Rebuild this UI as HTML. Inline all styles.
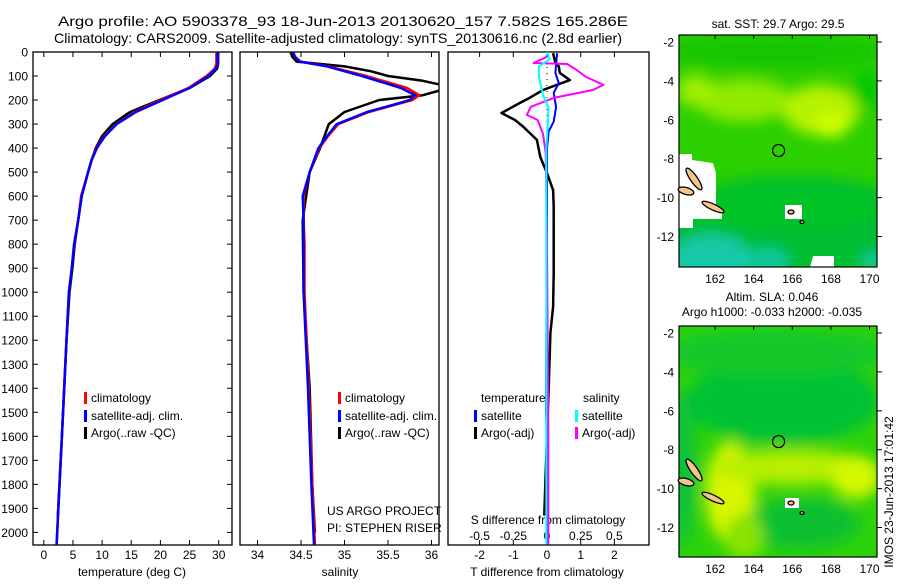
<!DOCTYPE html>
<html><head><meta charset="utf-8">
<style>
html,body{margin:0;padding:0;background:#fff;}
svg text{font-family:"Liberation Sans",sans-serif;fill:#000;}
</style></head>
<body>
<svg id="fig" width="900" height="580" xmlns="http://www.w3.org/2000/svg">
<defs>
<filter id="blur6" x="-50%" y="-50%" width="200%" height="200%"><feGaussianBlur stdDeviation="7"/></filter>
<clipPath id="clipTop"><rect x="679" y="35" width="198" height="232"/></clipPath>
<clipPath id="clipBot"><rect x="679" y="326" width="198" height="231"/></clipPath>
<clipPath id="clipP1"><rect x="33" y="52" width="199" height="493"/></clipPath>
<clipPath id="clipP2"><rect x="240" y="52" width="199" height="493"/></clipPath>
<clipPath id="clipP3"><rect x="448" y="52" width="201" height="493"/></clipPath>
</defs>
<text x="58" y="26" font-size="14" textLength="570" lengthAdjust="spacingAndGlyphs">Argo profile: AO 5903378_93 18-Jun-2013 20130620_157 7.582S 165.286E</text>
<text x="54" y="43" font-size="14" textLength="568" lengthAdjust="spacingAndGlyphs">Climatology: CARS2009. Satellite-adjusted climatology: synTS_20130616.nc (2.8d earlier)</text>
<g id="maps"></g>
<g id="panels"></g>
</svg>
<script>
// ---------- data ----------
const depthT = [0,50,70,100,150,200,250,300,350,400,450,500,600,700,800,900,1000,1200,1400,1600,1800,2000,2050];
const tempSat = [29.8,29.8,29.5,28.2,25,20.4,15.8,12.5,10.5,9.1,8.2,7.6,6.5,5.9,5.2,4.8,4.3,3.9,3.5,3.1,2.7,2.3,2.2];
const tempClim = [29.6,29.6,29.3,27.9,24.8,20.0,15.6,12.4,10.4,9.0,8.2,7.6,6.4,5.9,5.2,4.8,4.3,3.9,3.5,3.1,2.7,2.3,2.2];
const depthArgoT = [0,50,70,100,150,200,250,300,350,400,450,500,600,700,800,900,1000,1200,1400,1600,1800,1930];
const tempArgo = [29.9,29.9,29.7,28.5,25.0,19.8,14.8,11.8,10.0,8.9,8.2,7.6,6.5,5.9,5.3,4.9,4.4,3.9,3.5,3.1,2.7,2.4];

const depthS = [0,20,40,60,100,150,180,200,220,250,300,350,400,500,600,700,800,1000,1400,1800,2050];
const salSat = [34.41,34.43,34.49,34.8,35.2,35.65,35.81,35.75,35.56,35.26,34.91,34.8,34.7,34.6,34.52,34.53,34.53,34.53,34.58,34.62,34.65];
const salClim = [34.41,34.43,34.49,34.82,35.25,35.72,35.86,35.78,35.58,35.28,34.93,34.81,34.71,34.6,34.53,34.53,34.54,34.54,34.59,34.63,34.66];
const depthArgoS = [0,20,40,60,80,100,120,140,160,180,200,250,300,400,500,700,1000,1400,1800,2000];
const salArgo = [34.38,34.4,34.45,35.0,35.3,35.5,35.9,36.15,36.1,35.9,35.4,35.0,34.82,34.72,34.6,34.52,34.53,34.6,34.63,34.66];

const depthD = [5,45,60,87,117,158,190,212,254,283,312,366,437,504,575,644,800,921,1060,1170,1400,1600,1800,1930];
const tDiffArgo = [0.18,0.25,0.35,0.38,0.68,-0.12,-0.5,-0.8,-1.35,-0.95,-0.7,-0.3,-0.2,0,0.18,0.2,0.2,0.2,0.18,0.1,0.05,0.0,-0.05,-0.08];
const depthTS = [5,87,130,170,230,290,330,400,800,1200,1500,1600,1800,2050];
const tDiffSat = [0.3,0.25,0.35,0.2,0.27,0.2,0.05,0.0,0.0,-0.02,-0.03,0.0,0.0,0.02];
const depthSA = [20,46,50,75,104,137,158,191,228,262,283,340,420,800,1600,2050];
const sDiffArgo = [0.0,-0.1,0.15,0.22,0.29,0.42,0.34,0.05,-0.12,-0.15,-0.07,-0.03,-0.01,0.0,0.01,0.01];
const depthSS = [0,30,60,100,130,180,230,270,400,800,1200,2050];
const sDiffSat = [0.0,0.02,-0.06,-0.06,-0.05,-0.03,0.01,0.01,-0.005,-0.005,-0.005,-0.005];

const depthTicks = [0,100,200,300,400,500,600,700,800,900,1000,1100,1200,1300,1400,1500,1600,1700,1800,1900,2000];
const tempTicks = [0,5,10,15,20,25,30];
const salTicks = [34,34.5,35,35.5,36];
const tdTicks = [-2,-1,0,1,2];
const sdTicks = [-0.5,-0.25,0,0.25,0.5];
const sdTickLabels = ["-0.5","-0.25","0","0.25","0.5"];
const lonTicks = [162,164,166,168,170];
const latTicks = [-2,-4,-6,-8,-10,-12];

// ---------- axes ----------
const NS='http://www.w3.org/2000/svg';
const yD = d => 52 + d*0.2402;
const xT = t => 43.8 + t*5.83;
const xS = s => 257.5 + (s-34)*87;
const xTD = v => 547 + v*33.7;
const xSD = v => 547 + v*134.8;

function mk(tag, attrs, parent){
  const e=document.createElementNS(NS,tag);
  for(const k in attrs) e.setAttribute(k,attrs[k]);
  parent.appendChild(e); return e;
}
const P=document.getElementById('panels');

function line(xs, ys, xf, color, w, name, clip){
  let d='';
  for(let i=0;i<xs.length;i++){ d+=(i?'L':'M')+xf(xs[i]).toFixed(1)+','+yD(ys[i]).toFixed(1); }
  const p=mk('path',{d:d,fill:'none',stroke:color,'stroke-width':w,'stroke-linejoin':'round','clip-path':'url(#'+clip+')'},P);
  
  
  return p;
}
function txt(x,y,s,size,anchor,name){
  const t=mk('text',{x:x,y:y,'font-size':size,'text-anchor':anchor||'start'},P);
  t.textContent=s;
  
  
  return t;
}

const frames=[[33,232,'temperature-panel-frame'],[240,439,'salinity-panel-frame'],[448,649,'difference-panel-frame']];
frames.forEach(f=>{
  const r=mk('rect',{x:f[0],y:52,width:f[1]-f[0],height:493,fill:'none',stroke:'#000','stroke-width':1.3},P);
  
  
});
depthTicks.forEach(d=>{
  const y=yD(d);
  mk('line',{x1:33,x2:38,y1:y,y2:y,stroke:'#000'},P);
  mk('line',{x1:227,x2:232,y1:y,y2:y,stroke:'#000'},P);
  txt(28,y+4.5,String(d),12,'end','depth-tick-label');
});
tempTicks.forEach((t,i)=>{
  const x=xT(t);
  mk('line',{x1:x,x2:x,y1:52,y2:57,stroke:'#000'},P);
  mk('line',{x1:x,x2:x,y1:540,y2:545,stroke:'#000'},P);
  txt(x,559,String(t),12,'middle','temperature-tick-label');
});
salTicks.forEach(s=>{
  const x=xS(s);
  mk('line',{x1:x,x2:x,y1:52,y2:57,stroke:'#000'},P);
  mk('line',{x1:x,x2:x,y1:540,y2:545,stroke:'#000'},P);
  txt(x,559,String(s),12,'middle','salinity-tick-label');
});
tdTicks.forEach(v=>{
  const x=xTD(v);
  mk('line',{x1:x,x2:x,y1:52,y2:57,stroke:'#000'},P);
  mk('line',{x1:x,x2:x,y1:540,y2:545,stroke:'#000'},P);
  txt(x,559,String(v),12,'middle','t-diff-tick-label');
});
sdTicks.forEach((v,i)=>{
  txt(xSD(v),540,sdTickLabels[i],12,'middle','s-diff-tick-label');
});
txt(132,576,'temperature (deg C)',12,'middle','x-axis-title-temperature');
txt(340,576,'salinity',12,'middle','x-axis-title-salinity');
txt(547,576,'T difference from climatology',12,'middle','x-axis-title-t-diff');
txt(548,524,'S difference from climatology',12,'middle','s-diff-axis-title');
const zl=mk('line',{x1:547,x2:547,y1:55,y2:540,stroke:'#000','stroke-dasharray':'1,5'},P);



line(tempArgo,depthArgoT,xT,'#000',2.5,'argo-temperature-line','clipP1');
line(tempClim,depthT,xT,'#f00',2.5,'climatology-temperature-line','clipP1');
line(tempSat,depthT,xT,'#00f',2.5,'satellite-temperature-line','clipP1');
line(salArgo,depthArgoS,xS,'#000',2.5,'argo-salinity-line','clipP2');
line(salClim,depthS,xS,'#f00',2.5,'climatology-salinity-line','clipP2');
line(salSat,depthS,xS,'#00f',2.5,'satellite-salinity-line','clipP2');
line(tDiffArgo,depthD,xTD,'#000',2.5,'argo-t-diff-line','clipP3');
line(tDiffSat,depthTS,xTD,'#00f',2,'satellite-t-diff-line','clipP3');
line(sDiffArgo,depthSA,xSD,'#f0f',2,'argo-s-diff-line','clipP3');
line(sDiffSat,depthSS,xSD,'#0ff',2,'satellite-s-diff-line','clipP3');

function legEntry(x,y,color,label,name){
  const m=mk('rect',{x:x,y:y-10,width:3,height:12,fill:color},P);
  
  
  txt(x+7,y,label,12,'start',name);
}
legEntry(84,402,'#f00','climatology','legend-climatology');
legEntry(84,420,'#00f','satellite-adj. clim.','legend-satellite-adj');
legEntry(84,437,'#000','Argo(..raw -QC)','legend-argo');
legEntry(338,402,'#f00','climatology','legend2-climatology');
legEntry(338,420,'#00f','satellite-adj. clim.','legend2-satellite-adj');
legEntry(338,437,'#000','Argo(..raw -QC)','legend2-argo');
txt(481,402,'temperature',12,'start','legend-temperature-heading');
txt(583,402,'salinity',12,'start','legend-salinity-heading');
legEntry(474,420,'#00f','satellite','legend-t-satellite');
legEntry(474,437,'#000','Argo(-adj)','legend-t-argo');
legEntry(575,420,'#0ff','satellite','legend-s-satellite');
legEntry(575,437,'#f0f','Argo(-adj)','legend-s-argo');
txt(327,515,'US ARGO PROJECT',12,'start','project-label');
txt(327,532,'PI: STEPHEN RISER',12,'start','pi-label');

// ---------- maps ----------
const M=document.getElementById('maps');
function mapLayer(top, clip, blobs, name){
  const lonX = lon => 679 + (lon-160.13)*19.3;
  const latY = lat => top + (-1.64-lat)*19.45;
  const g=mk('g',{'clip-path':'url(#'+clip+')'},M);
  
  
  mk('rect',{x:679,y:top,width:198,height:232,fill:blobs.base},g);
  const gb=mk('g',{filter:'url(#blur6)'},g);
  blobs.list.forEach(b=>{
    mk('ellipse',{cx:lonX(b[0]),cy:latY(b[1]),rx:b[2]*19.3,ry:b[3]*19.45,fill:b[4]},gb);
  });
  return {g,lonX,latY};
}
function addMapFurniture(m,top,bottom,name){
  const fr=mk('rect',{x:679,y:top,width:198,height:bottom-top,fill:'none',stroke:'#000','stroke-width':1.2},M);
  
  
  lonTicks.forEach(l=>{
    const x=m.lonX(l);
    mk('line',{x1:x,x2:x,y1:top,y2:top+4,stroke:'#000'},M);
    txt(x,bottom+16,String(l),12,'middle',name+'-lon-label');
  });
  latTicks.forEach(l=>{
    const y=m.latY(l);
    mk('line',{x1:877,x2:882,y1:y,y2:y,stroke:'#000'},M);
    txt(674,y+4.5,String(l),12,'end',name+'-lat-label');
  });
  const c=mk('circle',{cx:m.lonX(165.29),cy:m.latY(-7.58),r:6,fill:'none',stroke:'#000','stroke-width':1.2},M);
  
  
}
function islands(m, off){
  const g=mk('g',{},M);
  
  
  const isl=[[694,179+off,13,3.5,55],[686,191+off,8,3.5,15],[713,207+off,12,3,25],[791,212+off,3,2,0],[802,222+off,2,1.5,0]];
  isl.forEach(s=>{
    mk('ellipse',{cx:s[0],cy:s[1],rx:s[2],ry:s[3],fill:'#f3c48e',stroke:'#000','stroke-width':1.3,transform:'rotate('+s[4]+' '+s[0]+' '+s[1]+')'},g);
  });
}
const topMap=mapLayer(35,'clipTop',{base:'#2ccf00',list:[
  [165,-2.5,6,0.9,'#12c600'],
  [163.5,-5,2.5,1.1,'#8fea00'],
  [161,-4.5,1,0.8,'#a0ee00'],
  [167.5,-5.5,2,1.3,'#b5f200'],
  [168,-6.3,0.9,0.6,'#d0ff00'],
  [169.8,-4.5,0.7,1,'#00c800'],
  [166,-11.5,7,2.6,'#00bd30'],
  [165,-10.5,6,1.1,'#05c328'],
  [161.8,-13.2,2.2,1.3,'#12c8a8'],
  [164.8,-13.3,1,0.7,'#10c8a0'],
  [170.2,-13.3,0.6,0.5,'#10c8a0']
]},'sst-map');
const wm=mk('polygon',{points:'679,154 692,154 692,160 713,163 716,173 716,212 722,213 722,219 693,219 693,228 679,228',fill:'#fff'},topMap.g);


mk('rect',{x:785,y:205,width:17,height:14,fill:'#fff'},topMap.g);
mk('polygon',{points:'813,256 834,256 834,267 810,267',fill:'#fff'},topMap.g);
addMapFurniture(topMap,35,267,'sst-map');
islands(topMap,0);
txt(778,28,'sat. SST: 29.7 Argo: 29.5',12,'middle','sst-map-title');

const botMap=mapLayer(326,'clipBot',{base:'#2ed20a',list:[
  [165.5,-5.5,5,2.2,'#06c236'],
  [165,-3,6,1.2,'#18c82a'],
  [162.8,-10.2,1.3,2.6,'#d8f600'],
  [166,-8.9,4,0.9,'#b8ee00'],
  [169.3,-9.4,1.3,1.1,'#d4f800'],
  [166.5,-11.8,3,1.3,'#08c033'],
  [160.3,-9,0.7,4,'#10c23a'],
  [163.5,-12.5,1,1.2,'#88e400']
]},'sla-map');
mk('rect',{x:785,y:498,width:14,height:10,fill:'#fff'},botMap.g);
addMapFurniture(botMap,326,557,'sla-map');
islands(botMap,291);
txt(772,301,'Altim. SLA: 0.046',12,'middle','sla-map-title-1');
txt(772,316,'Argo h1000: -0.033 h2000: -0.035',12,'middle','sla-map-title-2');
const st=txt(0,0,'IMOS 23-Jun-2013 17:01:42',12,'middle','timestamp-label');
st.setAttribute('transform','translate(893,492) rotate(-90)');
</script>
</body></html>
